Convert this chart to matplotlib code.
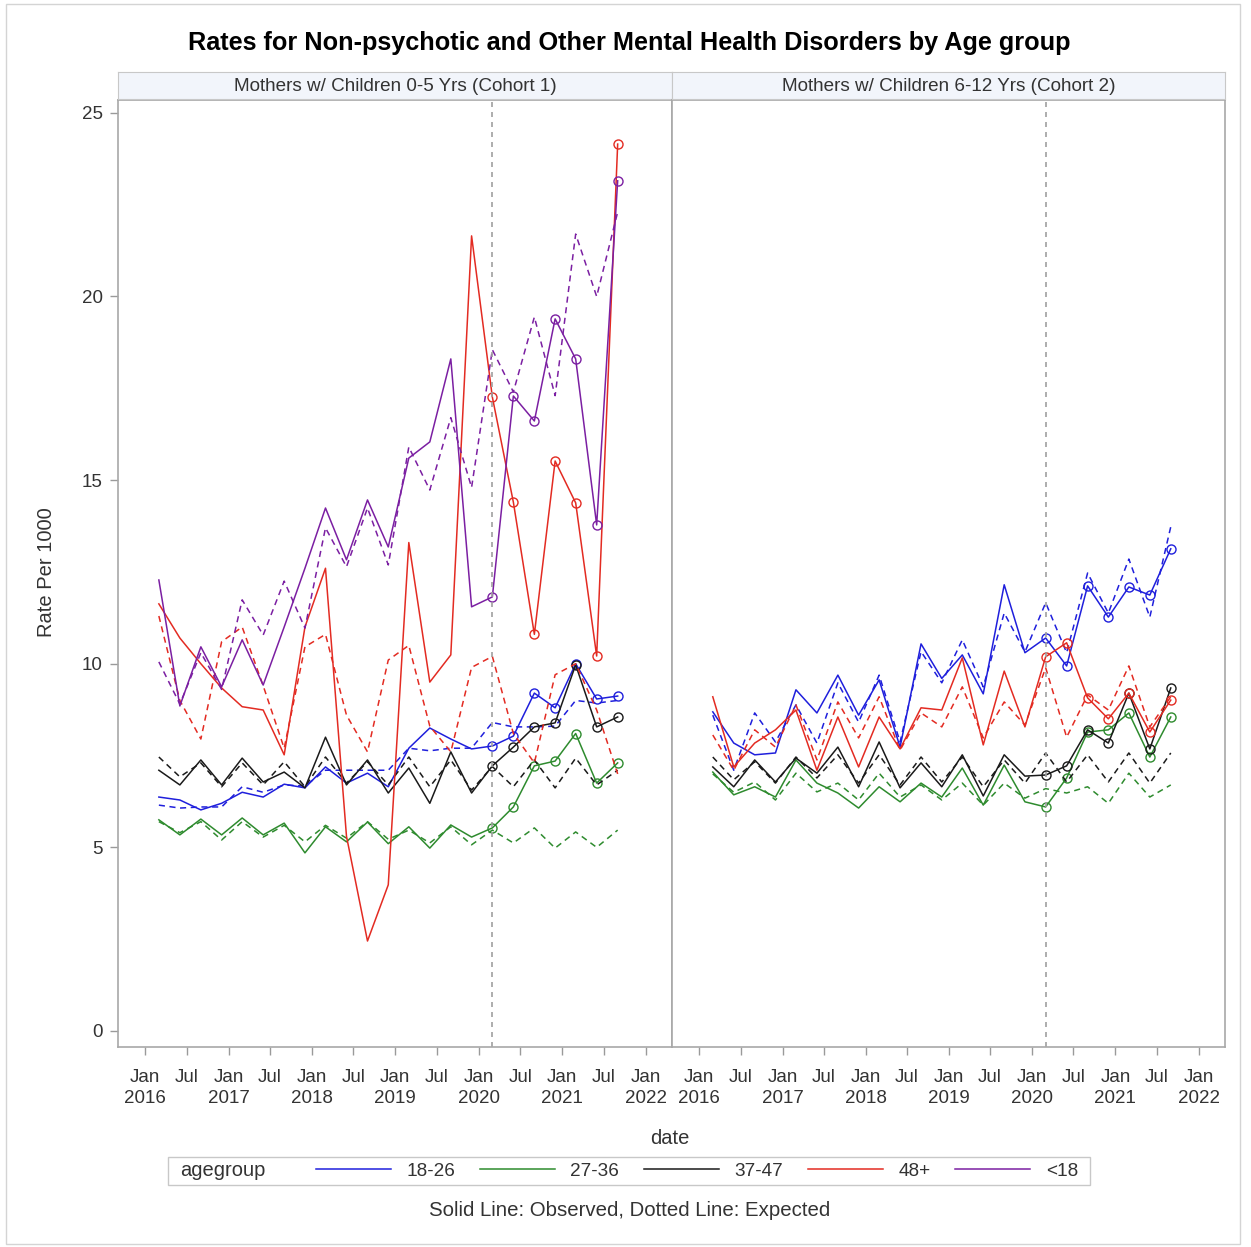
import matplotlib
matplotlib.use('Agg')
import matplotlib.pyplot as plt
from matplotlib.lines import Line2D
from matplotlib.patches import Rectangle
import pandas as pd

plt.rcParams['font.family'] = ['Liberation Sans', 'DejaVu Sans']

# quarterly observation dates (Mar 2016 - Sep 2021)
dates = pd.date_range('2016-03-01', periods=23, freq='3MS')
covid_start = 16  # first observed point after the break (Mar 2020)

age_groups = ['18-26', '27-36', '37-47', '48+', '<18']
group_colors = ['#1f1fdc', '#2e8b2e', '#1a1a1a', '#e32b22', '#7b1fa2']

# Cohort 1: mothers with children 0-5 yrs
c1_1826_obs = [6.37, 6.29, 6.02, 6.2, 6.5, 6.37, 6.72, 6.62, 7.19, 6.75, 7.02, 6.65,
               7.7, 8.25, 7.95, 7.68, 7.76, 8.03, 9.2, 8.8, 10.0, 9.04, 9.12]
c1_1826_exp = [6.15, 6.07, 6.1, 6.1, 6.65, 6.5, 6.7, 6.67, 7.1, 7.1, 7.1, 7.1,
               7.7, 7.63, 7.7, 7.7, 8.4, 8.28, 8.28, 8.3, 9.0, 8.93, 9.0]
c1_2736_obs = [5.75, 5.34, 5.77, 5.34, 5.8, 5.34, 5.66, 4.85, 5.56, 5.15, 5.69, 5.1,
               5.56, 4.98, 5.61, 5.28, 5.53, 6.1, 7.22, 7.35, 8.1, 6.75, 7.3]
c1_2736_exp = [5.7, 5.4, 5.7, 5.2, 5.7, 5.28, 5.6, 5.15, 5.6, 5.25, 5.7, 5.22,
               5.47, 5.12, 5.56, 5.07, 5.47, 5.12, 5.53, 4.98, 5.42, 5.0, 5.47]
c1_3747_obs = [7.1, 6.7, 7.38, 6.7, 7.43, 6.78, 7.05, 6.62, 8.0, 6.7, 7.38, 6.48,
               7.16, 6.2, 7.6, 6.48, 7.22, 7.73, 8.28, 8.39, 9.97, 8.28, 8.55]
c1_3747_exp = [7.46, 6.92, 7.3, 6.65, 7.3, 6.7, 7.33, 6.65, 7.46, 6.75, 7.33, 6.7,
               7.46, 6.65, 7.38, 6.56, 7.2, 6.65, 7.38, 6.62, 7.43, 6.7, 7.1]
c1_48_obs = [11.63, 10.7, 10.0, 9.34, 8.83, 8.74, 7.52, 11.0, 12.6, 5.3, 2.45, 3.98,
             13.3, 9.5, 10.24, 21.65, 17.26, 14.4, 10.8, 15.52, 14.38, 10.21, 24.15]
c1_48_exp = [11.3, 9.0, 7.95, 10.6, 11.0, 9.4, 7.7, 10.46, 10.8, 8.6, 7.6, 10.1,
             10.5, 8.3, 7.6, 9.9, 10.2, 8.1, 7.3, 9.7, 10.0, 8.74, 7.0]
c1_u18_obs = [12.28, 8.85, 10.46, 9.37, 10.65, 9.42, 11.0, 12.6, 14.24, 12.83, 14.46, 13.18,
              15.6, 16.04, 18.3, 11.55, 11.82, 17.29, 16.61, 19.39, 18.3, 13.78, 23.15]
c1_u18_exp = [10.05, 8.9, 10.3, 9.3, 11.74, 10.78, 12.25, 10.97, 13.7, 12.64, 14.24, 12.69,
              15.9, 14.73, 16.7, 14.8, 18.55, 17.4, 19.44, 17.3, 21.7, 20.0, 22.3]

# Cohort 2: mothers with children 6-12 yrs
c2_1826_obs = [8.69, 7.84, 7.52, 7.57, 9.29, 8.66, 9.69, 8.6, 9.56, 7.73, 10.54, 9.6,
               10.24, 9.18, 12.15, 10.3, 10.7, 9.94, 12.12, 11.27, 12.09, 11.87, 13.13]
c2_1826_exp = [8.6, 7.1, 8.66, 7.87, 8.88, 7.84, 9.48, 8.41, 9.69, 7.87, 10.33, 9.48,
               10.65, 9.37, 11.38, 10.32, 11.66, 10.3, 12.47, 11.38, 12.85, 11.27, 13.73]
c2_2736_obs = [7.05, 6.43, 6.65, 6.37, 7.38, 6.75, 6.48, 6.07, 6.65, 6.24, 6.75, 6.37,
               7.16, 6.15, 7.24, 6.24, 6.1, 6.89, 8.14, 8.2, 8.66, 7.46, 8.55]
c2_2736_exp = [7.0, 6.5, 6.78, 6.29, 7.02, 6.51, 6.75, 6.29, 7.02, 6.37, 6.7, 6.29,
               6.75, 6.15, 6.75, 6.34, 6.6, 6.48, 6.65, 6.2, 7.02, 6.37, 6.7]
c2_3747_obs = [7.19, 6.65, 7.38, 6.78, 7.43, 7.02, 7.73, 6.65, 7.87, 6.62, 7.3, 6.65,
               7.52, 6.4, 7.52, 6.94, 6.97, 7.22, 8.2, 7.84, 9.2, 7.68, 9.34]
c2_3747_exp = [7.46, 6.84, 7.33, 6.75, 7.46, 6.89, 7.52, 6.75, 7.52, 6.7, 7.46, 6.78,
               7.46, 6.65, 7.38, 6.75, 7.57, 6.78, 7.52, 6.78, 7.57, 6.75, 7.57]
c2_48_obs = [9.1, 7.19, 7.84, 8.2, 8.74, 7.1, 8.55, 7.19, 8.55, 7.68, 8.8, 8.74,
             10.16, 7.79, 9.8, 8.28, 10.19, 10.57, 9.07, 8.5, 9.2, 8.14, 9.01]
c2_48_exp = [8.06, 7.1, 8.2, 7.73, 8.88, 7.38, 8.96, 7.98, 9.1, 7.65, 8.66, 8.28,
             9.37, 7.98, 8.96, 8.33, 9.89, 8.0, 9.15, 8.74, 9.94, 8.28, 9.1]

cohort_titles = ['Mothers w/ Children 0-5 Yrs (Cohort 1)', 'Mothers w/ Children 6-12 Yrs (Cohort 2)']
cohort1 = [(c1_1826_obs, c1_1826_exp), (c1_2736_obs, c1_2736_exp), (c1_3747_obs, c1_3747_exp),
           (c1_48_obs, c1_48_exp), (c1_u18_obs, c1_u18_exp)]
cohort2 = [(c2_1826_obs, c2_1826_exp), (c2_2736_obs, c2_2736_exp), (c2_3747_obs, c2_3747_exp),
           (c2_48_obs, c2_48_exp), None]

tick_dates = pd.date_range('2016-01-01', '2022-01-01', freq='6MS')
tick_labels = [f'Jan\n{d.year}' if d.month == 1 else 'Jul' for d in tick_dates]

W, H = 1251, 1247
fig = plt.figure(figsize=(W / 100, H / 100), dpi=100)

frame_col = '#a8a8a8'
text_col = '#333333'

panels = [(118, 672), (672, 1225)]
top, bottom = 100, 1047
for k, (cohort, (x0, x1)) in enumerate(zip([cohort1, cohort2], panels)):
    ax = fig.add_axes([x0 / W, 1 - bottom / H, (x1 - x0) / W, (bottom - top) / H])
    for (grp, col) in zip(cohort, group_colors):
        if grp is None:
            continue
        obs, exp = grp
        ax.plot(dates, obs, color=col, lw=1.1)
        ax.plot(dates[covid_start:], obs[covid_start:], ls='none', marker='o', ms=6.5,
                mfc='none', mec=col, mew=1.0)
        ax.plot(dates, exp, color=col, lw=1.1, ls=(0, (4, 3)))
    ax.axvline(dates[covid_start], color='#a0a0a0', lw=1.2, ls=(0, (3, 3)))
    ax.set_ylim(-0.436, 25.35)
    ax.set_xlim(pd.Timestamp('2015-09-04'), pd.Timestamp('2022-04-27'))
    ax.set_xticks(tick_dates)
    ax.set_xticklabels(tick_labels, linespacing=1.3)
    ax.set_yticks([0, 5, 10, 15, 20, 25])
    ax.tick_params(axis='both', direction='out', length=6, width=1, color='#9a9a9a',
                   labelsize=13.5, labelcolor=text_col)
    ax.tick_params(axis='x', pad=10)
    ax.tick_params(axis='y', pad=5)
    if k == 1:
        ax.tick_params(axis='y', left=False, labelleft=False)
    for sp in ax.spines.values():
        sp.set_color(frame_col)
        sp.set_linewidth(1.2)

    # panel header strip
    sax = fig.add_axes([x0 / W, 1 - 99 / H, (x1 - x0) / W, 27 / H])
    sax.set_facecolor('#f2f5fb')
    sax.set_xticks([])
    sax.set_yticks([])
    for sp in sax.spines.values():
        sp.set_color('#c8c8c8')
    sax.text(0.5, 0.45, cohort_titles[k], ha='center', va='center', fontsize=13.6,
             color=text_col, transform=sax.transAxes)

fig.text(629 / W, 1 - 43 / H, 'Rates for Non-psychotic and Other Mental Health Disorders by Age group',
         ha='center', va='center', fontsize=18.2, fontweight='bold', color='black')
fig.text(47 / W, 1 - 572 / H, 'Rate Per 1000', rotation=90, ha='center', va='center',
         fontsize=14.5, color=text_col)
fig.text(670 / W, 1 - 1138 / H, 'date', ha='center', va='center', fontsize=14.5, color=text_col)

# legend
handles = [Line2D([], [], color=c, lw=1.1) for c in group_colors]
fig.legend(handles, age_groups, loc='center', bbox_to_anchor=(697 / W, 1 - 1171 / H), ncol=5,
           frameon=False, fontsize=13.7, handlelength=3.95, handletextpad=0.8, columnspacing=1.3,
           labelcolor=text_col)
fig.text(180 / W, 1 - 1171 / H, 'agegroup', ha='left', va='center', fontsize=14.5, color=text_col)
fig.patches.append(Rectangle((168 / W, 1 - 1185 / H), 922 / W, 28 / H, transform=fig.transFigure,
                             fill=False, edgecolor='#c8c8c8', lw=1))
fig.text(630 / W, 1 - 1211 / H, 'Solid Line: Observed, Dotted Line: Expected', ha='center',
         va='center', fontsize=14.7, color=text_col)

# outer frame
fig.patches.append(Rectangle((6 / W, 3 / H), 1234 / W, 1240 / H, transform=fig.transFigure,
                             fill=False, edgecolor='#d4d4d4', lw=1))

fig.savefig('out.png', dpi=100)
